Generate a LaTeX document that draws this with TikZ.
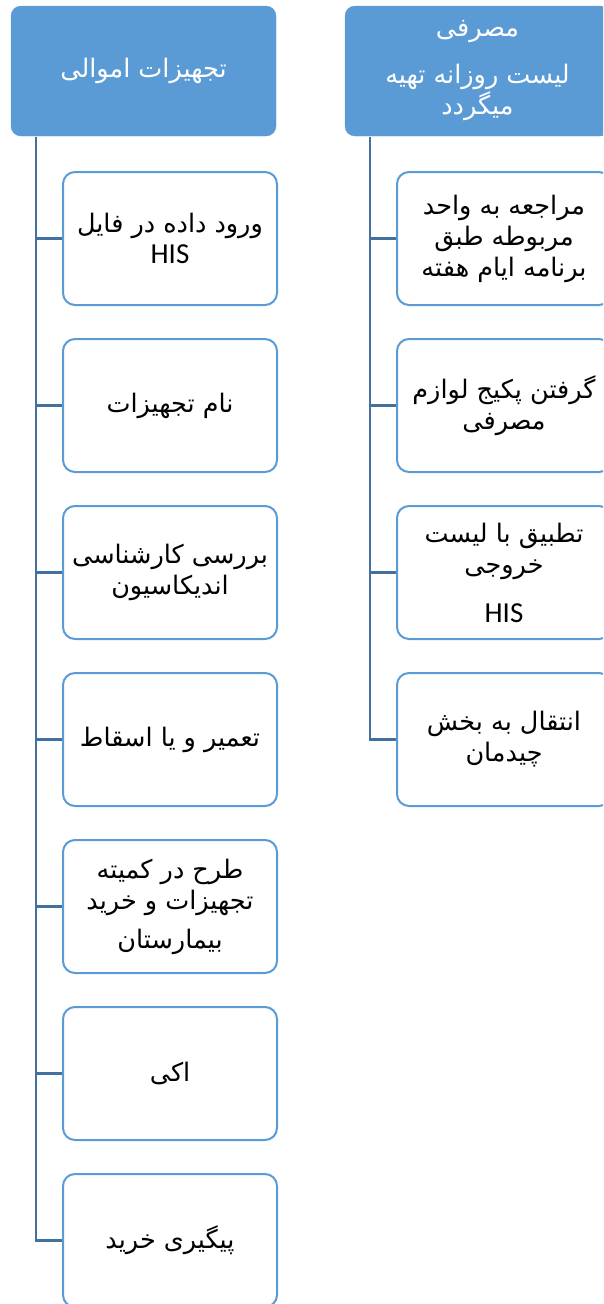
\documentclass[tikz,border=0pt]{standalone}
\usepackage{fontspec}
\setmainfont{DejaVu Sans}
\newfontfamily\fa[Script=Arabic]{DejaVu Sans}
\newfontfamily\lat{Carlito}
\TeXXeTstate=1
\newcommand\fatxt[1]{{\fa\beginR #1\endR}}
\newcommand\his{{\lat\fontsize{29}{31}\selectfont HIS}}
\definecolor{hdrc}{HTML}{5B9BD5}
\definecolor{boxc}{HTML}{5B9BD5}
\definecolor{lnk}{HTML}{41719C}
\begin{document}
\begin{tikzpicture}[x=1pt,y=-1pt,
  hdr/.style={rounded corners=10pt, fill=hdrc, draw=hdrc, text=white,
    minimum width=265pt, minimum height=130pt, align=center,
    font=\fontsize{25.5}{31}\selectfont},
  box/.style={rounded corners=12pt, draw=boxc, line width=2pt, fill=white,
    minimum width=214pt, minimum height=133pt, align=center,
    font=\fontsize{25.5}{31}\selectfont},
  conn/.style={draw=lnk, line width=2.5pt}]
\useasboundingbox (0,0) rectangle (603,1304);
\clip (0,0) rectangle (603,1304);

% headers
\node[hdr] (LH) at (143.5,71) {\fatxt{تجهیزات اموالی}};
\node[hdr] (RH) at (477.5,71) {\fatxt{مصرفی}\\[16pt]\fatxt{لیست روزانه تهیه}\\\fatxt{میگردد}};

% left boxes
\node[box] (L1) at (170,238.5) {\fatxt{ورود داده در فایل}\\\his};
\node[box] (L2) at (170,405.5) {\fatxt{نام تجهیزات}};
\node[box] (L3) at (170,572.5) {\fatxt{بررسی کارشناسی}\\\fatxt{اندیکاسیون}};
\node[box] (L4) at (170,739.5) {\fatxt{تعمیر و یا اسقاط}};
\node[box] (L5) at (170,906.5) {\fatxt{طرح در کمیته}\\\fatxt{تجهیزات و خرید}\\[8pt]\fatxt{بیمارستان}};
\node[box] (L6) at (170,1073.5) {\fatxt{اکی}};
\node[box] (L7) at (170,1240.5) {\fatxt{پیگیری خرید}};

% right boxes
\node[box] (R1) at (504,238.5) {\fatxt{مراجعه به واحد}\\\fatxt{مربوطه طبق}\\\fatxt{برنامه ایام هفته}};
\node[box] (R2) at (504,405.5) {\fatxt{گرفتن پکیج لوازم}\\\fatxt{مصرفی}};
\node[box] (R3) at (504,572.5) {\fatxt{تطبیق با لیست}\\\fatxt{خروجی}\\[18pt]\his};
\node[box] (R4) at (504,739.5) {\fatxt{انتقال به بخش}\\\fatxt{چیدمان}};

% connectors
\coordinate (Lt) at (36,137);
\coordinate (Rt) at (370,137);
\draw[conn] (Lt) |- (L7.west);
\foreach \i in {1,...,6} \draw[conn] (L\i.west -| Lt) -- (L\i.west);
\draw[conn] (Rt) |- (R4.west);
\foreach \i in {1,2,3} \draw[conn] (R\i.west -| Rt) -- (R\i.west);
\end{tikzpicture}
\end{document}
